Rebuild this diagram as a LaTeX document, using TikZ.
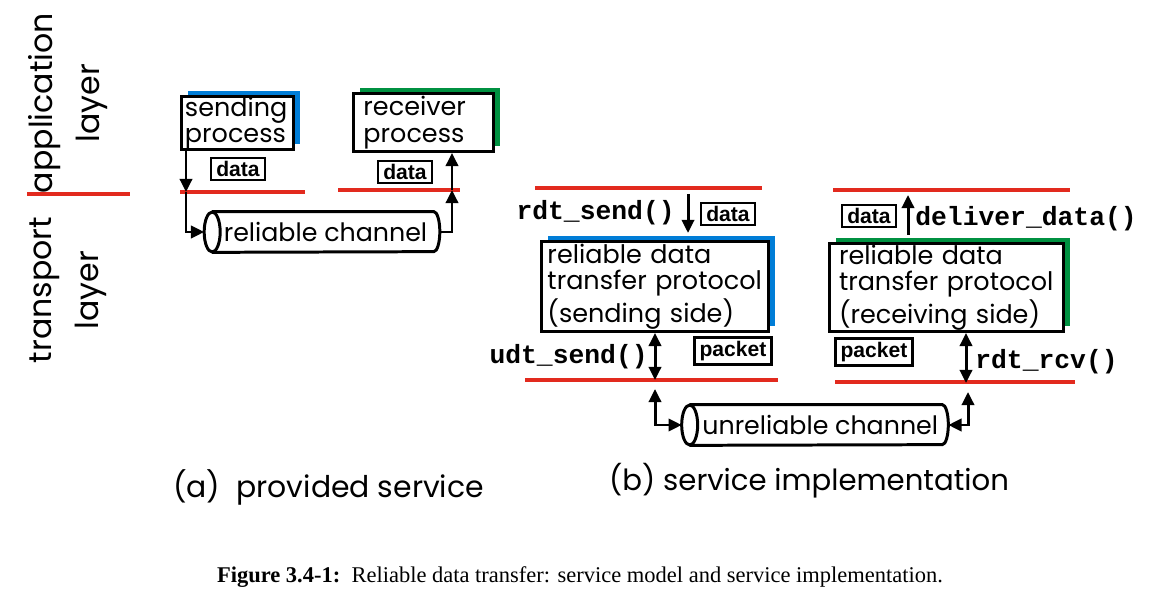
\documentclass[tikz,border=0pt]{standalone}
\usepackage{fontspec}
\setmonofont{Liberation Mono}
\newfontfamily\gothic{Poppins}
\newfontfamily\tagfont{Liberation Sans}
\newfontfamily\capfont{Liberation Serif}
\usetikzlibrary{positioning, shadows, arrows.meta}
\definecolor{rdtRed}{RGB}{226,42,30}
\definecolor{rdtBlue}{RGB}{0,125,215}
\definecolor{rdtGreen}{RGB}{0,145,65}

\begin{document}
\begin{tikzpicture}[x=0.02cm, y=-0.02cm,
              layerLine/.style={draw=rdtRed, line width=2.3pt},
              procBox/.style={
                draw, line width=1.7pt, fill=white, anchor=north west,
                inner xsep=3pt, inner ysep=0pt, align=left,
                font=\gothic\fontsize{14.5}{15}\selectfont
             },
              sendBox/.style={procBox,
                drop shadow={shadow xshift=3.6pt, shadow yshift=3pt, fill=rdtBlue, opacity=1}},
              recvBox/.style={procBox,
                drop shadow={shadow xshift=3.6pt, shadow yshift=3pt, fill=rdtGreen, opacity=1}},
              tagBox/.style={
                draw, line width=1.4pt, inner xsep=3pt, inner ysep=2pt,
                font=\tagfont\bfseries\fontsize{12}{13}\selectfont
             },
              callText/.style={inner sep=0pt, font=\ttfamily\bfseries\fontsize{15}{16}\selectfont},
              pipe/.style={minimum height=0.8cm, inner sep=0pt, font=\gothic\fontsize{14.4}{15}\selectfont},
              pipeLine/.style={line width=1.7pt},
              layerText/.style={rotate=90, align=center, font=\gothic\fontsize{18}{27}\selectfont},
              flow/.style={line width=1.7pt, -{Triangle[length=7.5pt, width=7pt]}},
              flowBoth/.style={line width=1.7pt, {Triangle[length=7.5pt, width=7pt]}-{Triangle[length=7.5pt, width=7pt]}}
            ]
              \useasboundingbox (0,0) rectangle (1156,604);

              % layer names
              \node[layerText](appLayer) at (68,103){application\\layer};
              \node[layerText](trLayer) at (68,290){transport\\layer};
              \draw[layerLine] (27,194) -- (130,194);

              % (a) provided service
              \node[sendBox, minimum width=2.24cm, minimum height=1.06cm, inner xsep=1.5pt, text width=2.1cm](sendProc) at (180,95){sending\\process};
              \node[recvBox, minimum width=2.8cm, minimum height=1.16cm, inner xsep=5pt, text width=2.4cm](recvProc) at (352,92){receiver\\process};
              \node[tagBox](dataA) at (238,169){data};
              \node[tagBox](dataB) at (405,172){data};
              \draw[layerLine] (180,192) -- (305,192);
              \draw[layerLine] (338,190) -- (460,190);

              \node[pipe, minimum width=4.7cm](relPipe) at (322,232){\hspace{4pt}reliable channel};
              \draw[pipeLine] ([xshift=0.16cm]relPipe.north west) -- ([xshift=-0.12cm]relPipe.north east)
                arc[start angle=90, end angle=-90, x radius=0.12cm, y radius=0.4cm]
                -- ([xshift=0.16cm]relPipe.south west);
              \draw[pipeLine] ([xshift=0.16cm]relPipe.west) ellipse[x radius=0.16cm, y radius=0.4cm];

              \coordinate (aDown) at (186,192);
              \coordinate (aUp) at (452,190);
              \draw[flow] (aDown |- sendProc.south) -- (aDown);
              \draw[flow] (aDown) |- (relPipe.west);
              \draw[flow] (relPipe.east) -| (aUp);
              \draw[flow] (aUp) -- (aUp |- recvProc.south);

              % (b) service implementation
              \draw[layerLine] (535,188) -- (762,188);
              \draw[layerLine] (833,190) -- (1070,190);
              \draw[layerLine] (525,380) -- (778,380);
              \draw[layerLine] (835,382) -- (1075,382);

              \node[sendBox, minimum width=4.54cm, minimum height=1.8cm, inner xsep=2.5pt, text width=4.3cm](sendRdt) at (540,240){reliable data\\transfer protocol\\(sending side)};
              \node[recvBox, minimum width=4.68cm, minimum height=1.76cm, inner xsep=5pt, text width=4.3cm](recvRdt) at (828,242){reliable data\\transfer protocol\\(receiving side)};

              \node[tagBox](dataC) at (728,214){data};
              \node[tagBox](dataD) at (869,216){data};
              \node[tagBox](pktC) at (733,351){packet};
              \node[tagBox](pktD) at (874,352){packet};

              \node[callText, anchor=east](rdtSend) at (675,213){rdt\_send()};
              \node[callText, anchor=east](udtSend) at (648,357){udt\_send()};
              \node[callText, anchor=west](deliverData) at (915,219){deliver\_data()};
              \node[callText, anchor=west](rdtRcv) at (975,362){rdt\_rcv()};

              \node[pipe, minimum width=5.32cm](unrelPipe) at (815,425){\hspace{6pt}unreliable channel};
              \draw[pipeLine] ([xshift=0.16cm]unrelPipe.north west) -- ([xshift=-0.12cm]unrelPipe.north east)
                arc[start angle=90, end angle=-90, x radius=0.12cm, y radius=0.4cm]
                -- ([xshift=0.16cm]unrelPipe.south west);
              \draw[pipeLine] ([xshift=0.16cm]unrelPipe.west) ellipse[x radius=0.16cm, y radius=0.4cm];

              \coordinate (sTop) at (688,194);
              \coordinate (sBot) at (655,380);
              \coordinate (sLow) at (655,389);
              \coordinate (rTop) at (908,195);
              \coordinate (rBot) at (966,383);
              \coordinate (rLow) at (968,392);
              \draw[flow] (sTop) -- ([yshift=4pt]sTop |- sendRdt.north);
              \draw[flowBoth] (sBot |- sendRdt.south) -- (sBot);
              \draw[flowBoth] (sLow) |- (unrelPipe.west);
              \draw[flow] ([yshift=4pt]rTop |- recvRdt.north) -- (rTop);
              \draw[flowBoth] (rBot |- recvRdt.south) -- (rBot);
              \draw[flowBoth] (rLow) |- (unrelPipe.east);

              % captions
              \node[anchor=west, font=\gothic\fontsize{17}{18}\selectfont](capA) at (167,487){(a)~~provided service};
              \node[anchor=west, font=\gothic\fontsize{16.6}{18}\selectfont](capB) at (603,481){(b) service implementation};
              \node[font=\capfont\fontsize{12.8}{14}\selectfont](figCap) at (580,577){\textbf{Figure 3.4-1:}~~Reliable data transfer: service model and service implementation.};
            \end{tikzpicture}
\end{document}
